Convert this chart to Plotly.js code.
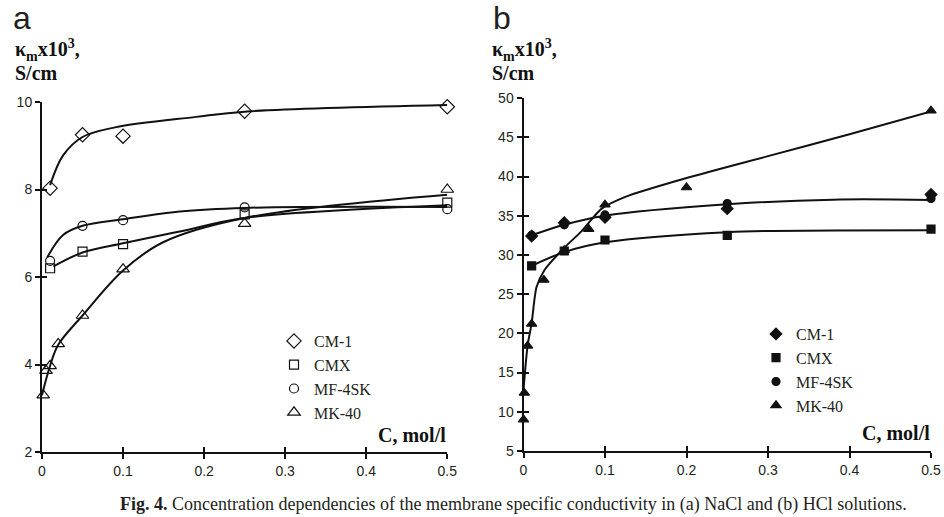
<!DOCTYPE html>
<html><head><meta charset="utf-8">
<script src="https://cdn.plot.ly/plotly-3.0.1.min.js"></script>
<style>html,body{margin:0;padding:0;background:#fff;}#chart{width:944px;height:517px;}</style>
</head><body><div id="chart"></div>
<script>
// ---------- Panel (a): NaCl ----------
const seriesNames = ['CM-1', 'CMX', 'MF-4SK', 'MK-40'];

const cA_cm1 = [0.01, 0.05, 0.1, 0.25, 0.5];
const kA_cm1 = [8.03, 9.25, 9.22, 9.79, 9.89];
const cA_cmx = [0.01, 0.05, 0.1, 0.25, 0.5];
const kA_cmx = [6.2, 6.58, 6.75, 7.43, 7.7];
const cA_mf = [0.01, 0.05, 0.1, 0.25, 0.5];
const kA_mf = [6.37, 7.17, 7.3, 7.59, 7.55];
const cA_mk = [0.0015, 0.005, 0.01, 0.02, 0.05, 0.1, 0.25, 0.5];
const kA_mk = [3.3, 3.86, 3.97, 4.47, 5.12, 6.18, 7.22, 8.0];

// smoothed curves (a)
const cA_cm1_fit = [0.01, 0.026, 0.05, 0.09, 0.19, 0.25, 0.5];
const kA_cm1_fit = [8.1, 8.78, 9.2, 9.42, 9.66, 9.78, 9.93];
const cA_cmx_fit = [0.014, 0.05, 0.1, 0.17, 0.25, 0.5];
const kA_cmx_fit = [6.24, 6.56, 6.77, 7.04, 7.35, 7.64];
const cA_mf_fit = [0.0065, 0.026, 0.05, 0.1, 0.17, 0.25, 0.5];
const kA_mf_fit = [6.45, 6.96, 7.17, 7.32, 7.5, 7.58, 7.6];
const cA_mk_fit = [0, 0.01, 0.02, 0.05, 0.1, 0.15, 0.25, 0.5];
const kA_mk_fit = [3.3, 3.97, 4.45, 5.12, 6.15, 6.8, 7.35, 7.88];

// ---------- Panel (b): HCl ----------
const cB_cm1 = [0.01, 0.05, 0.1, 0.25, 0.5];
const kB_cm1 = [32.4, 34.1, 34.8, 35.9, 37.7];
const cB_cmx = [0.01, 0.05, 0.1, 0.25, 0.5];
const kB_cmx = [28.6, 30.5, 31.9, 32.5, 33.3];
const cB_mf = [0.01, 0.05, 0.1, 0.25, 0.5];
const kB_mf = [32.5, 33.85, 35.1, 36.55, 37.2];
const cB_mk = [0, 0.001, 0.005, 0.01, 0.025, 0.05, 0.08, 0.1, 0.2, 0.5];
const kB_mk = [9.0, 12.4, 18.4, 21.2, 26.8, 30.6, 33.3, 36.4, 38.6, 48.4];

// smoothed curves (b)
const cB_mf_fit = [0.01, 0.05, 0.1, 0.25, 0.38, 0.5];
const kB_mf_fit = [32.5, 33.85, 35.0, 36.45, 37.05, 37.0];
const cB_cmx_fit = [0.01, 0.05, 0.1, 0.25, 0.38, 0.5];
const kB_cmx_fit = [28.6, 30.35, 31.6, 32.9, 33.1, 33.15];
const cB_mk_fit = [0, 0.005, 0.01, 0.016, 0.026, 0.049, 0.071, 0.096, 0.125, 0.2, 0.3, 0.4, 0.5];
const kB_mk_fit = [12.8, 18.4, 21.3, 25.9, 28.1, 30.8, 33.0, 35.9, 37.4, 39.8, 42.6, 45.4, 48.3];

const xTicksA = [0, 0.1, 0.2, 0.3, 0.4, 0.5];
const yTicksA = [2, 4, 6, 8, 10];
const yTicksB = [5, 10, 15, 20, 25, 30, 35, 40, 45, 50];

// ---------- layout helpers ----------
const W = 944, H = 517;
const px = v => v / W;
const py = v => (H - v) / H;

const ink = '#111';
const tickFont = {family: 'Liberation Sans, Arial, sans-serif', size: 14, color: '#231f20'};

function fit(x, y, xa, ya, sm) {
  return {x: x, y: y, xaxis: xa, yaxis: ya, mode: 'lines', type: 'scatter',
    line: {color: ink, width: 2, shape: 'spline', smoothing: sm || 1}, showlegend: false,
    hoverinfo: 'skip', cliponaxis: false};
}
function pts(x, y, xa, ya, name, sym, size, legend, grp) {
  return {x: x, y: y, xaxis: xa, yaxis: ya, mode: 'markers', type: 'scatter', name: name,
    legend: legend, legendgroup: grp,
    marker: {symbol: sym, size: size, color: ink, line: {color: ink, width: 1.2}},
    cliponaxis: false};
}

const traces = [
  fit(cA_cm1_fit, kA_cm1_fit, 'x', 'y'),
  fit(cA_cmx_fit, kA_cmx_fit, 'x', 'y'),
  fit(cA_mf_fit, kA_mf_fit, 'x', 'y'),
  fit(cA_mk_fit, kA_mk_fit, 'x', 'y'),
  pts(cA_cm1, kA_cm1, 'x', 'y', seriesNames[0], 'diamond-open', 11, 'legend', 'a1'),
  pts(cA_cmx, kA_cmx, 'x', 'y', seriesNames[1], 'square-open', 9, 'legend', 'a2'),
  pts(cA_mf, kA_mf, 'x', 'y', seriesNames[2], 'circle-open', 9, 'legend', 'a3'),
  pts(cA_mk, kA_mk, 'x', 'y', seriesNames[3], 'triangle-up-open', 11, 'legend', 'a4'),

  fit(cB_mf_fit, kB_mf_fit, 'x2', 'y2'),
  fit(cB_cmx_fit, kB_cmx_fit, 'x2', 'y2'),
  fit(cB_mk_fit, kB_mk_fit, 'x2', 'y2', 0.7),
  pts(cB_cm1, kB_cm1, 'x2', 'y2', seriesNames[0], 'diamond', 9, 'legend2', 'b1'),
  pts(cB_cmx, kB_cmx, 'x2', 'y2', seriesNames[1], 'square', 8, 'legend2', 'b2'),
  pts(cB_mf, kB_mf, 'x2', 'y2', seriesNames[2], 'circle', 8, 'legend2', 'b3'),
  pts(cB_mk, kB_mk, 'x2', 'y2', seriesNames[3], 'triangle-up', 9, 'legend2', 'b4'),
  // empty traces that carry the inside-tick overlay axes
  {x: [], y: [], xaxis: 'x3', yaxis: 'y3', type: 'scatter', showlegend: false},
  {x: [], y: [], xaxis: 'x4', yaxis: 'y4', type: 'scatter', showlegend: false}
];

const domXA = [px(42), px(447.3)], domYA = [py(452), py(102)];
const domXB = [px(523.5), px(931)], domYB = [py(450.9), py(98.1)];

function axis(extra) {
  return Object.assign({showgrid: false, zeroline: false, showline: true, linecolor: ink, linewidth: 2,
    ticks: 'outside', ticklen: 5, tickwidth: 2, tickcolor: ink, tickfont: tickFont, fixedrange: true}, extra);
}
function inAxis(extra) {
  return Object.assign({showgrid: false, zeroline: false, showline: false, showticklabels: false,
    ticks: 'inside', ticklen: 5, tickwidth: 2, tickcolor: ink, fixedrange: true}, extra);
}

const serifB = {family: 'Liberation Serif, Times New Roman, serif', size: 20, color: ink};
const legFont = {family: 'Liberation Serif, Times New Roman, serif', size: 16, color: '#231f20'};

function ann(text, x, y, font, xanchor) {
  return {text: text, xref: 'paper', yref: 'paper', x: px(x), y: py(y), xanchor: xanchor || 'left',
    yanchor: 'middle', showarrow: false, font: font};
}

const layout = {
  width: W, height: H, margin: {l: 0, r: 0, t: 0, b: 0, pad: 0},
  paper_bgcolor: '#fff', plot_bgcolor: 'rgba(0,0,0,0)',
  xaxis: axis({domain: domXA, anchor: 'y', range: [0, 0.5], tickvals: xTicksA}),
  yaxis: axis({domain: domYA, anchor: 'x', range: [2, 10], tickvals: yTicksA}),
  xaxis2: axis({domain: domXB, anchor: 'y2', range: [0, 0.5], tickvals: xTicksA}),
  yaxis2: axis({domain: domYB, anchor: 'x2', range: [5, 50], tickvals: yTicksB}),
  xaxis3: inAxis({overlaying: 'x', anchor: 'y3', range: [0, 0.5], tickvals: xTicksA}),
  yaxis3: inAxis({overlaying: 'y', anchor: 'x3', range: [2, 10], tickvals: yTicksA}),
  xaxis4: inAxis({overlaying: 'x2', anchor: 'y4', range: [0, 0.5], tickvals: xTicksA}),
  yaxis4: inAxis({overlaying: 'y2', anchor: 'x4', range: [5, 50], tickvals: yTicksB}),
  legend: {x: px(274), y: py(324), xanchor: 'left', yanchor: 'top', font: legFont,
    bgcolor: 'rgba(0,0,0,0)', borderwidth: 0, tracegroupgap: 0, itemwidth: 30},
  legend2: {x: px(756), y: py(317), xanchor: 'left', yanchor: 'top', font: legFont,
    bgcolor: 'rgba(0,0,0,0)', borderwidth: 0, tracegroupgap: 0, itemwidth: 30},
  annotations: [
    ann('a', 11, 18, {family: 'Liberation Sans, Arial, sans-serif', size: 32, color: '#231f20'}),
    ann('b', 491, 18, {family: 'Liberation Sans, Arial, sans-serif', size: 32, color: '#231f20'}),
    ann('<b>κ<sub>m</sub>x10<sup>3</sup>,</b>', 13, 50, serifB),
    ann('<b>S/cm</b>', 13, 73, serifB),
    ann('<b>κ<sub>m</sub>x10<sup>3</sup>,</b>', 490, 50, serifB),
    ann('<b>S/cm</b>', 490, 73, serifB),
    ann('<b>C, mol/l</b>', 448, 435, {family: 'Liberation Serif, Times New Roman, serif', size: 20, color: ink}, 'right'),
    ann('<b>C, mol/l</b>', 932, 433, {family: 'Liberation Serif, Times New Roman, serif', size: 20, color: ink}, 'right'),
    ann('<b>Fig. 4.</b> Concentration dependencies of the membrane specific conductivity in (a) NaCl and (b) HCl solutions.',
        513, 504, {family: 'Liberation Serif, Times New Roman, serif', size: 18, color: '#231f20'}, 'center')
  ]
};

Plotly.newPlot('chart', traces, layout, {staticPlot: true, displayModeBar: false});
</script>
</body></html>
